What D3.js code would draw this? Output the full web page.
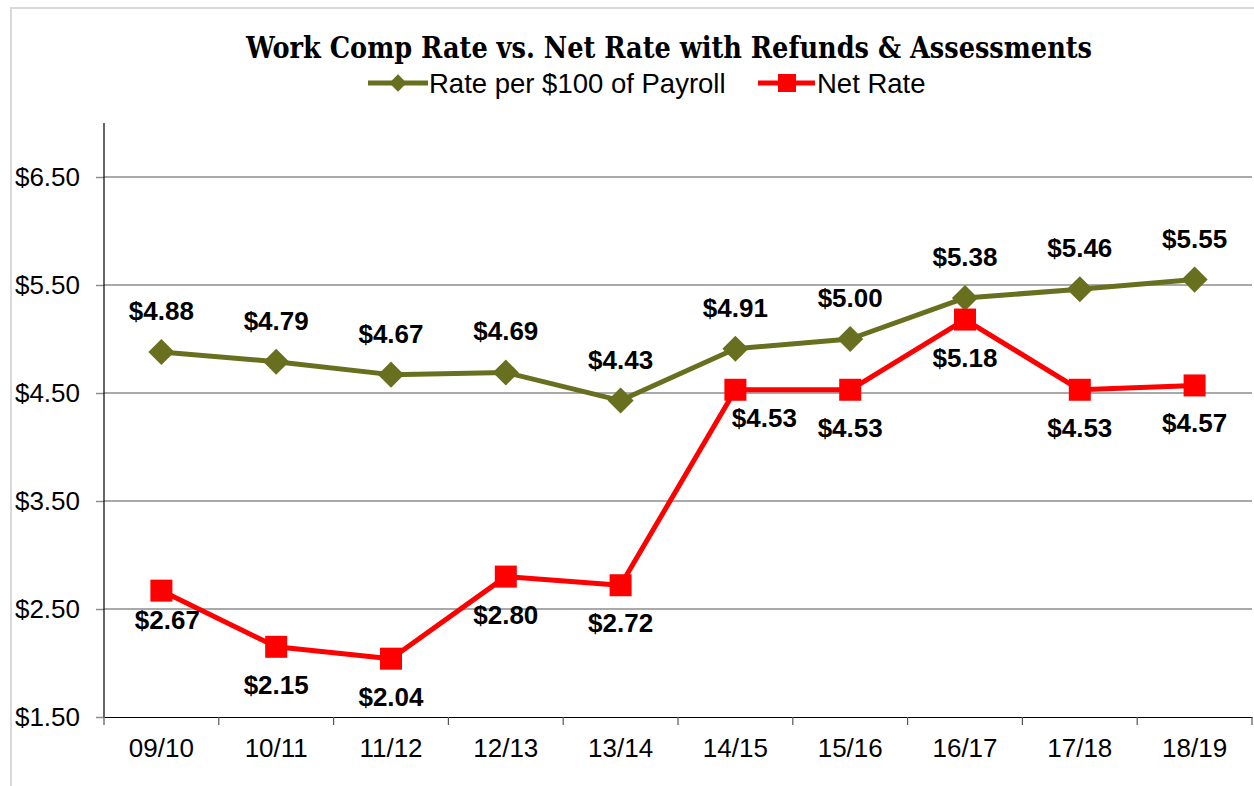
<!DOCTYPE html>
<html>
<head>
<meta charset="utf-8">
<script src="https://cdn.jsdelivr.net/npm/d3@7"></script>
<style>
  body { margin: 0; background: #fff; }
  svg { display: block; }
</style>
</head>
<body>
<svg width="1254" height="786"></svg>
<script>
const years = ["09/10", "10/11", "11/12", "12/13", "13/14", "14/15", "15/16", "16/17", "17/18", "18/19"];
const ratePer100 = [4.88, 4.79, 4.67, 4.69, 4.43, 4.91, 5.00, 5.38, 5.46, 5.55];
const netRate = [2.67, 2.15, 2.04, 2.80, 2.72, 4.53, 4.53, 5.18, 4.53, 4.57];
const yTicks = [1.5, 2.5, 3.5, 4.5, 5.5, 6.5];

const olive = "#68701f";
const red = "#ff0000";

const margin = { left: 104, right: 2, top: 123, bottom: 69 };
const W = 1254, H = 786;

const svg = d3.select("svg");

// outer chart border
svg.append("rect")
  .attr("x", 11).attr("y", 8)
  .attr("width", W).attr("height", H)
  .attr("fill", "none")
  .attr("stroke", "#d9d9d9")
  .attr("stroke-width", 2);

const x = d3.scaleBand()
  .domain(years)
  .range([margin.left, W - margin.right]);

const y = d3.scaleLinear()
  .domain([1.5, 7.0])
  .range([H - margin.bottom, margin.top]);

const font = "Liberation Sans, Arial, sans-serif";

// gridlines
svg.append("g")
  .selectAll("line")
  .data(yTicks.slice(1))
  .enter().append("line")
  .attr("x1", margin.left).attr("x2", W - margin.right)
  .attr("y1", d => y(d)).attr("y2", d => y(d))
  .attr("stroke", "#8c8c8c")
  .attr("stroke-width", 1.5);

// y axis
const yAxis = svg.append("g")
  .attr("transform", `translate(${margin.left},0)`)
  .call(d3.axisLeft(y).tickValues(yTicks).tickSize(8).tickPadding(16)
    .tickFormat(d => "$" + d.toFixed(2)));
yAxis.select(".domain").remove();
yAxis.selectAll(".tick line").attr("stroke", "#8c8c8c").attr("stroke-width", 1.5);
yAxis.attr("font-family", font).attr("font-size", 26);
yAxis.selectAll(".tick text").attr("fill", "#000");
svg.append("line")
  .attr("x1", margin.left).attr("x2", margin.left)
  .attr("y1", margin.top).attr("y2", H - margin.bottom)
  .attr("stroke", "#000").attr("stroke-width", 1.2);

// x axis
const xAxis = svg.append("g")
  .attr("transform", `translate(0,${H - margin.bottom})`)
  .call(d3.axisBottom(x).tickSize(0).tickPadding(22));
xAxis.select(".domain").attr("stroke", "#000").attr("stroke-width", 1.2);
xAxis.attr("font-family", font).attr("font-size", 26);
xAxis.selectAll(".tick text").attr("fill", "#000");
const bounds = years.map(d => x(d)).concat([x.range()[1]]);
xAxis.selectAll(".bound")
  .data(bounds)
  .enter().append("line")
  .attr("x1", d => d).attr("x2", d => d)
  .attr("y1", 0).attr("y2", 8)
  .attr("stroke", "#555").attr("stroke-width", 1.2);

const cx = d => x(d) + x.bandwidth() / 2;

const line = d3.line()
  .x((d, i) => cx(years[i]))
  .y(d => y(d));

// net rate series
svg.append("path")
  .datum(netRate)
  .attr("d", line)
  .attr("fill", "none")
  .attr("stroke", red)
  .attr("stroke-width", 5)
  .attr("stroke-linejoin", "round");

// rate series
svg.append("path")
  .datum(ratePer100)
  .attr("d", line)
  .attr("fill", "none")
  .attr("stroke", olive)
  .attr("stroke-width", 5)
  .attr("stroke-linejoin", "round");

const diamond = d3.symbol().type(d3.symbolSquare).size(340);

svg.append("g")
  .selectAll("path")
  .data(ratePer100)
  .enter().append("path")
  .attr("d", diamond)
  .attr("transform", (d, i) => `translate(${cx(years[i])},${y(d)}) rotate(45)`)
  .attr("fill", olive);

svg.append("g")
  .selectAll("rect")
  .data(netRate)
  .enter().append("rect")
  .attr("x", (d, i) => cx(years[i]) - 11)
  .attr("y", d => y(d) - 11)
  .attr("width", 22).attr("height", 22)
  .attr("fill", red);

svg.append("g")
  .selectAll("text")
  .data(ratePer100)
  .enter().append("text")
  .attr("x", (d, i) => cx(years[i]))
  .attr("y", d => y(d) - 32)
  .attr("text-anchor", "middle")
  .attr("font-family", font)
  .attr("font-weight", "bold")
  .attr("font-size", 26)
  .text(d => "$" + d.toFixed(2));

// a couple of net labels were nudged in the original
const nudge = { 0: [6, -9], 5: [29, -10] };
svg.append("g")
  .selectAll("text")
  .data(netRate)
  .enter().append("text")
  .attr("x", (d, i) => cx(years[i]) + (nudge[i] ? nudge[i][0] : 0))
  .attr("y", (d, i) => y(d) + 47 + (nudge[i] ? nudge[i][1] : 0))
  .attr("text-anchor", "middle")
  .attr("font-family", font)
  .attr("font-weight", "bold")
  .attr("font-size", 26)
  .text(d => "$" + d.toFixed(2));

// title
svg.append("text")
  .attr("x", 669).attr("y", 58)
  .attr("text-anchor", "middle")
  .attr("font-family", "DejaVu Serif Condensed, DejaVu Serif, serif")
  .attr("font-weight", "bold")
  .attr("font-size", 30)
  .attr("textLength", 846)
  .attr("lengthAdjust", "spacingAndGlyphs")
  .text("Work Comp Rate vs. Net Rate with Refunds & Assessments");

// legend
const legend = svg.append("g");
legend.append("line")
  .attr("x1", 368).attr("x2", 428).attr("y1", 83).attr("y2", 83)
  .attr("stroke", olive).attr("stroke-width", 5);
legend.append("path")
  .attr("d", d3.symbol().type(d3.symbolSquare).size(150))
  .attr("transform", "translate(398,83) rotate(45)")
  .attr("fill", olive);
legend.append("text")
  .attr("x", 429).attr("y", 93)
  .attr("font-family", font)
  .attr("font-size", 27.5)
  .text("Rate per $100 of Payroll");
legend.append("line")
  .attr("x1", 758).attr("x2", 815).attr("y1", 83).attr("y2", 83)
  .attr("stroke", red).attr("stroke-width", 5);
legend.append("rect")
  .attr("x", 778).attr("y", 74).attr("width", 18).attr("height", 18)
  .attr("fill", red);
legend.append("text")
  .attr("x", 817).attr("y", 93)
  .attr("font-family", font)
  .attr("font-size", 27.5)
  .text("Net Rate");
</script>
</body>
</html>
